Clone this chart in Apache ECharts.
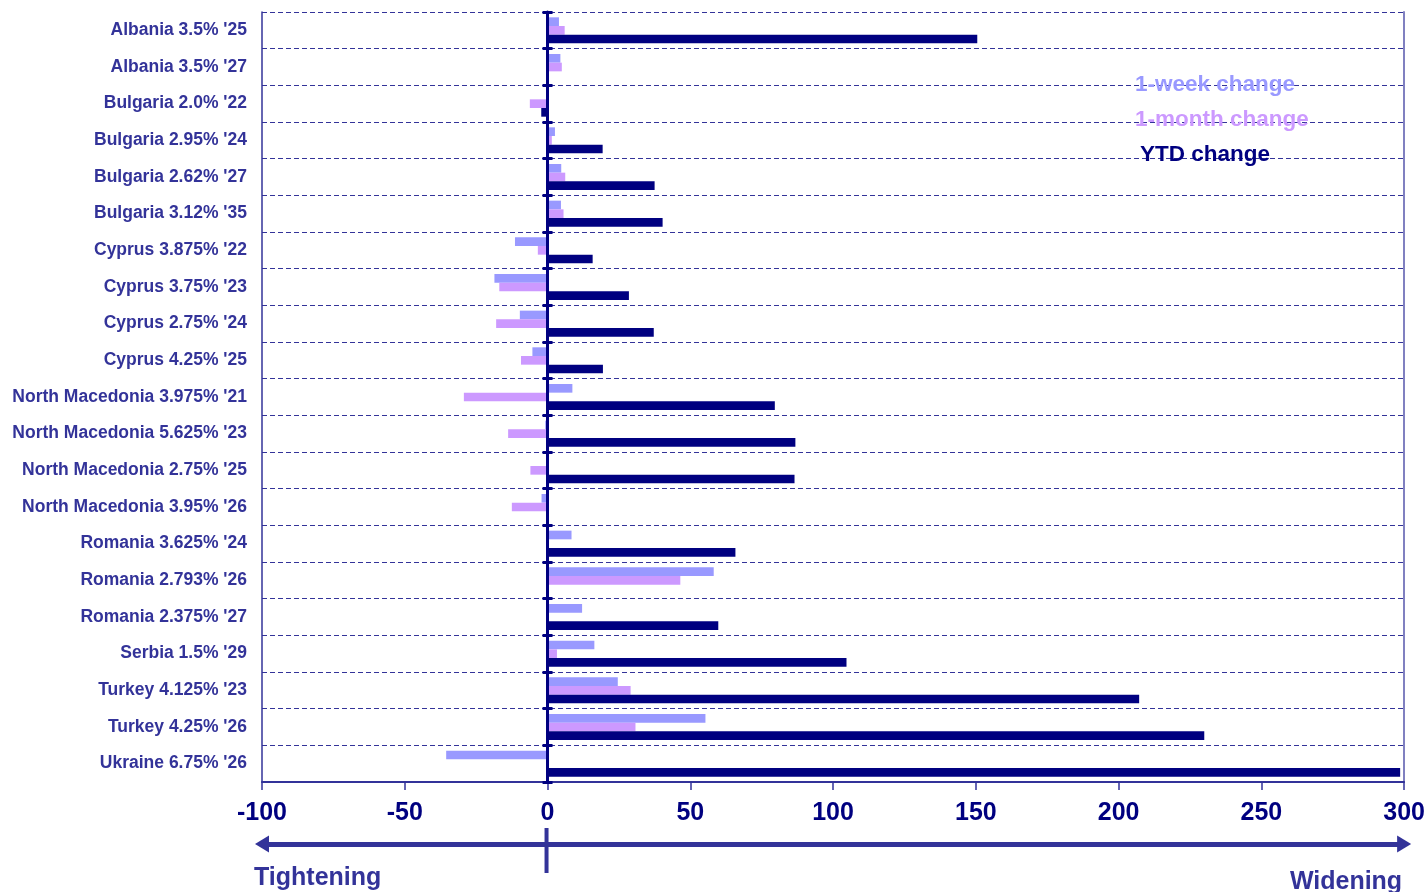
<!DOCTYPE html>
<html>
<head>
<meta charset="utf-8">
<script src="https://cdn.jsdelivr.net/npm/echarts@6/dist/echarts.min.js"></script>
<style>
  html, body { margin: 0; padding: 0; background: #ffffff; }
  #chart { width: 1428px; height: 892px; }
</style>
</head>
<body>
<div id="chart"></div>
<script>
// Eurobond spread changes, basis points
const bonds = [
  "Albania 3.5% '25", "Albania 3.5% '27", "Bulgaria 2.0% '22", "Bulgaria 2.95% '24",
  "Bulgaria 2.62% '27", "Bulgaria 3.12% '35", "Cyprus 3.875% '22", "Cyprus 3.75% '23",
  "Cyprus 2.75% '24", "Cyprus 4.25% '25", "North Macedonia 3.975% '21",
  "North Macedonia 5.625% '23", "North Macedonia 2.75% '25", "North Macedonia 3.95% '26",
  "Romania 3.625% '24", "Romania 2.793% '26", "Romania 2.375% '27", "Serbia 1.5% '29",
  "Turkey 4.125% '23", "Turkey 4.25% '26", "Ukraine 6.75% '26"
];
const weekChange  = [4.0, 4.5, 0, 2.6, 4.8, 4.7, -11.4, -18.6, -9.7, -5.3, 8.7, -0.8, 0, -2.1, 8.4, 58.2, 12.1, 16.4, 24.6, 55.3, -35.5];
const monthChange = [6.0, 5.0, -6.2, 1.5, 6.2, 5.6, -3.4, -16.9, -18.0, -9.3, -29.3, -13.8, -6.0, -12.5, -0.4, 46.5, 0, 3.3, 29.1, 30.8, 0];
const ytdChange   = [150.5, 0, -2.2, 19.3, 37.5, 40.3, 15.8, 28.5, 37.2, 19.4, 79.6, 86.8, 86.5, 0, 65.8, 0, 59.8, 104.7, 207.2, 230.0, 298.6];
const seriesNames = ['1-week change', '1-month change', 'YTD change'];
const xMin = -100, xMax = 300, xStep = 50;

const FONT = '"Liberation Sans", Arial, sans-serif';
const BLUE = '#333399';
const NAVY = '#000080';
const colors = ['#9999ff', '#cc99ff', NAVY];

const chart = echarts.init(document.getElementById('chart'), null, { renderer: 'canvas' });

const catAxisBase = {
  type: 'category',
  data: bonds,
  inverse: true,
  position: 'left',
  axisLabel: { show: false },
  splitLine: { show: false },
  axisTick: { show: false },
  axisLine: { show: false }
};

const option = {
  backgroundColor: '#ffffff',
  animation: false,
  color: colors,
  grid: { left: 262, right: 23, top: 12, bottom: 110, containLabel: false },
  legend: {
    orient: 'vertical',
    left: 1125,
    top: 68,
    itemWidth: 0,
    itemHeight: 0,
    itemGap: 12,
    selectedMode: false,
    textStyle: { fontFamily: FONT, fontSize: 22.5, fontWeight: 'bold' },
    data: seriesNames.map((n, i) => ({
      name: n, icon: 'rect',
      textStyle: { color: colors[i], padding: i === 2 ? [0, 0, 0, 5] : 0 }
    }))
  },
  xAxis: [
    {
      type: 'value',
      min: xMin, max: xMax, interval: xStep,
      position: 'bottom',
      axisLine: { show: true, onZero: false, lineStyle: { color: BLUE, width: 2 } },
      axisTick: { show: true, length: 8, lineStyle: { color: BLUE, width: 1.5 } },
      axisLabel: { color: NAVY, fontFamily: FONT, fontSize: 25, fontWeight: 'bold', margin: 19 },
      splitLine: { show: false }
    },
    {
      // direction arrow below the scale
      type: 'value',
      min: xMin, max: xMax,
      position: 'bottom',
      offset: 62,
      axisLine: {
        show: true, onZero: false,
        symbol: ['triangle', 'triangle'],
        symbolSize: [17, 14],
        lineStyle: { color: BLUE, width: 5 }
      },
      axisTick: { show: false },
      axisLabel: { show: false },
      splitLine: { show: false }
    }
  ],
  yAxis: [
    Object.assign({}, catAxisBase, {
      axisLine: { show: true, onZero: false, lineStyle: { color: BLUE, width: 1.5 } },
      axisLabel: { show: true, color: BLUE, fontFamily: FONT, fontSize: 17.5, fontWeight: 'bold', margin: 15, padding: [7, 0, 0, 0] },
      splitLine: { show: true, lineStyle: { color: BLUE, width: 1, type: [5, 3] } }
    }),
    Object.assign({}, catAxisBase, {
      z: 5,
      axisLine: { show: true, onZero: true, onZeroAxisIndex: 0, lineStyle: { color: NAVY, width: 3 } },
      axisTick: { show: true, length: 5, lineStyle: { color: NAVY, width: 3 } }
    }),
    Object.assign({}, catAxisBase, {
      z: 5,
      axisLine: { show: false, onZero: true, onZeroAxisIndex: 0 },
      axisTick: { show: true, inside: true, length: 5, lineStyle: { color: NAVY, width: 3 } }
    }),
    Object.assign({}, catAxisBase, {
      position: 'right',
      axisLine: { show: true, onZero: false, lineStyle: { color: '#8080c0', width: 2 } }
    })
  ],
  series: [weekChange, monthChange, ytdChange].map((vals, i) => ({
    name: seriesNames[i],
    type: 'bar',
    xAxisIndex: 0,
    yAxisIndex: 0,
    data: vals,
    barGap: '0%',
    barCategoryGap: '29%',
    itemStyle: { color: colors[i] }
  }))
};

chart.setOption(option);

// Direction marker and captions along the arrow
const zeroX = chart.convertToPixel({ xAxisIndex: 0 }, 0);
const leftX = chart.convertToPixel({ xAxisIndex: 0 }, xMin);
const rightX = chart.convertToPixel({ xAxisIndex: 0 }, xMax);
chart.setOption({
  graphic: [
    {
      type: 'rect',
      shape: { x: zeroX - 3, y: 828, width: 4, height: 45 },
      style: { fill: BLUE }
    },
    {
      type: 'text',
      x: leftX - 8, y: 878,
      style: { text: 'Tightening', fill: BLUE, font: 'bold 25px ' + FONT, textAlign: 'left', textVerticalAlign: 'middle' }
    },
    {
      type: 'text',
      x: rightX - 2, y: 882,
      style: { text: 'Widening', fill: BLUE, font: 'bold 25px ' + FONT, textAlign: 'right', textVerticalAlign: 'middle' }
    }
  ]
});
</script>
</body>
</html>
